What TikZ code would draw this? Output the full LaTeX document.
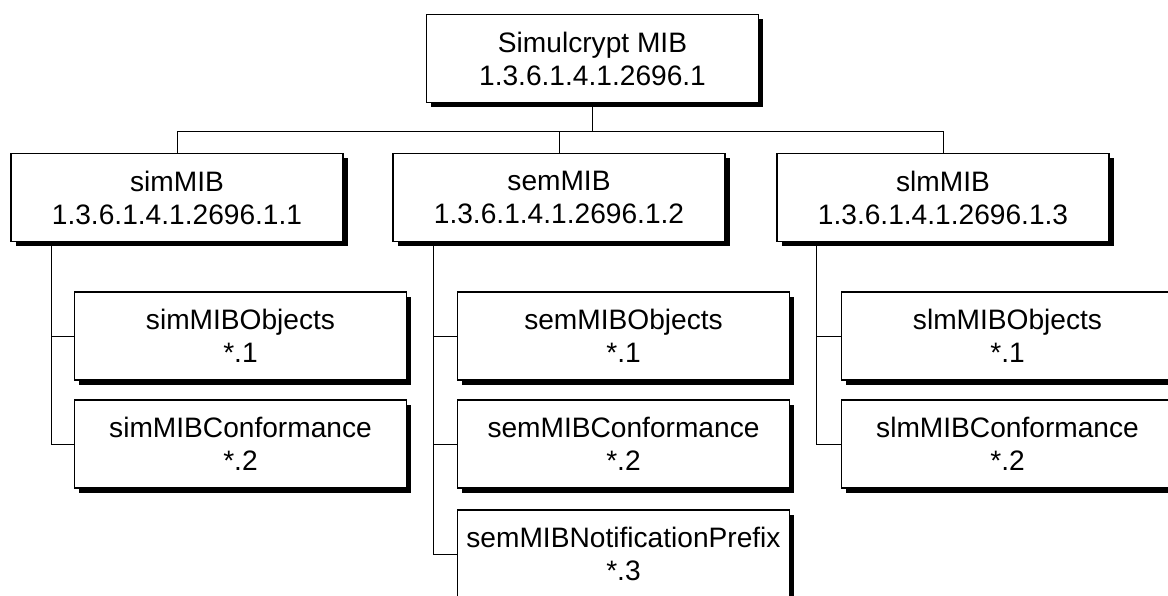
\documentclass[tikz,border=0pt]{standalone}
\usepackage{fontspec}
\setmainfont{Liberation Sans}
\usepackage{tikz}
\usetikzlibrary{positioning, shadows}

\begin{document}
\begin{tikzpicture}[x=0.025cm, y=-0.025cm,
    mib/.style={draw, line width=1pt, fill=white, align=center,
        minimum width=8.3cm, minimum height=2.2cm, inner sep=0pt,
        font=\fontsize{20}{23.5}\selectfont,
        drop shadow={shadow xshift=0.12cm, shadow yshift=-0.12cm, fill=black, opacity=1}},
    link/.style={draw, line width=0.7pt}]
    \useasboundingbox (0,0) rectangle (1168,595);

    \node[mib] (root) at (592.5,58.5) {Simulcrypt MIB\\1.3.6.1.4.1.2696.1};

    \node[mib] (sim) at (177,197.5) {simMIB\\1.3.6.1.4.1.2696.1.1};
    \node[mib] (sem) at (559,197.5) {semMIB\\1.3.6.1.4.1.2696.1.2};
    \node[mib] (slm) at (943,197.5) {slmMIB\\1.3.6.1.4.1.2696.1.3};

    \node[mib] (simobj) at (240.5,336) {simMIBObjects\\*.1};
    \node[mib] (simconf) at (240.5,444) {simMIBConformance\\*.2};

    \node[mib] (semobj) at (623.5,336) {semMIBObjects\\*.1};
    \node[mib] (semconf) at (623.5,444) {semMIBConformance\\*.2};
    \node[mib] (semnotif) at (623.5,554) {semMIBNotificationPrefix\\*.3};

    \node[mib] (slmobj) at (1007.5,336) {slmMIBObjects\\*.1};
    \node[mib] (slmconf) at (1007.5,444) {slmMIBConformance\\*.2};

    \draw[link] (root.south) -- ++(0,28) coordinate (bus);
    \draw[link] (sim.north) |- (bus) -| (slm.north);
    \draw[link] (sem.north) -- (sem.north |- bus);

    \draw[link] ([xshift=1.025cm]sim.south west) |- (simobj.west);
    \draw[link] ([xshift=1.025cm]sim.south west) |- (simconf.west);

    \draw[link] ([xshift=1.025cm]sem.south west) |- (semobj.west);
    \draw[link] ([xshift=1.025cm]sem.south west) |- (semconf.west);
    \draw[link] ([xshift=1.025cm]sem.south west) |- (semnotif.west);

    \draw[link] ([xshift=1cm]slm.south west) |- (slmobj.west);
    \draw[link] ([xshift=1cm]slm.south west) |- (slmconf.west);
\end{tikzpicture}
\end{document}
